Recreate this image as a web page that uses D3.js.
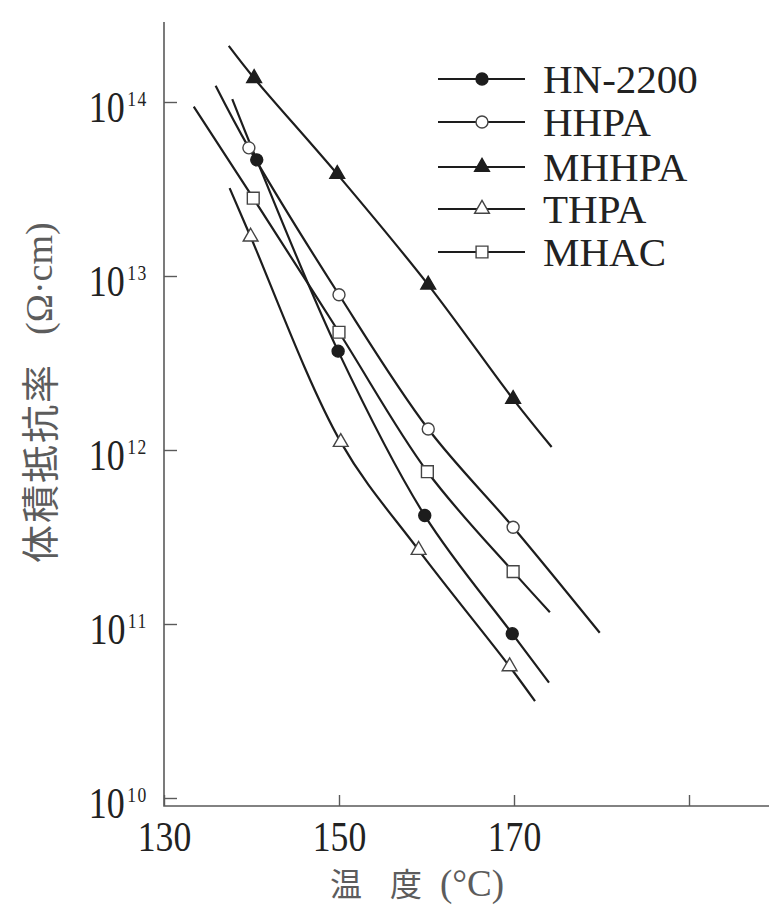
<!DOCTYPE html>
<html>
<head>
<meta charset="utf-8">
<script src="https://cdn.jsdelivr.net/npm/d3@7"></script>
<style>
  body { margin: 0; background: #fff; }
  svg { display: block; }
</style>
</head>
<body>
<script>
const W = 769, H = 908

// data: temperature (°C) and volume resistivity (Ω·cm)
// each curve: first and last entries are where the drawn line starts / stops,
// the middle ones carry the markers
const names = ['HN-2200', 'HHPA', 'MHHPA', 'THPA', 'MHAC']
const symbols = ['dot', 'circle', 'tri', 'otri', 'square']

const tHN = [137.8, 140.6, 149.9, 159.8, 169.8, 174.0]
const rHN = [1.04e14, 4.65e13, 3.7e12, 4.2e11, 8.8e10, 4.6e10]

const tHHPA = [135.9, 139.7, 150.0, 160.2, 169.9, 179.8]
const rHHPA = [1.24e14, 5.45e13, 7.8e12, 1.32e12, 3.6e11, 8.9e10]

const tMHHPA = [137.4, 140.3, 149.8, 160.2, 169.9, 174.3]
const rMHHPA = [2.1e14, 1.37e14, 3.85e13, 8.9e12, 1.96e12, 1.04e12]

const tTHPA = [137.5, 139.9, 150.2, 159.1, 169.5, 172.4]
const rTHPA = [3.2e13, 1.68e13, 1.11e12, 2.66e11, 5.7e10, 3.6e10]

const tMHAC = [133.4, 140.2, 150.0, 160.1, 169.9, 174.1]
const rMHAC = [9.4e13, 2.8e13, 4.75e12, 7.5e11, 2.0e11, 1.17e11]

const temps = [tHN, tHHPA, tMHHPA, tTHPA, tMHAC]
const rhos = [rHN, rHHPA, rMHHPA, rTHPA, rMHAC]

const xTicks = [130, 150, 170, 190]
const xLabels = ['130', '150', '170', '']
const yTicks = [1e10, 1e11, 1e12, 1e13, 1e14]

// layout
const LEFT = 164, TOP = 22, BOTTOM = 806
const INK = '#1d1d1d'
const SERIF = '"Liberation Serif", "DejaVu Serif", serif'
const CJK = '"Noto Sans CJK JP", "Noto Sans CJK SC", sans-serif'

const svg = d3.select('body').append('svg')
  .attr('width', W).attr('height', H)

const x = d3.scaleLinear().domain([130, 190]).range([LEFT, 689])
const y = d3.scaleLog().domain([1e10, 1e14]).range([798, 102])

// axis lines
svg.append('path')
  .attr('d', `M${LEFT},${TOP}V${BOTTOM}H${W}`)
  .attr('fill', 'none').attr('stroke', '#5a5a5a').attr('stroke-width', 1.6)

// x axis ticks + labels
const gx = svg.append('g')
  .attr('transform', `translate(0,${BOTTOM})`)
  .call(d3.axisBottom(x)
    .tickValues(xTicks)
    .tickSizeInner(-11).tickSizeOuter(0).tickPadding(14)
    .tickFormat((d, i) => xLabels[i]))
gx.select('.domain').remove()
gx.selectAll('line').attr('stroke', '#5a5a5a').attr('stroke-width', 1.4)
gx.selectAll('text')
  .attr('font-family', SERIF).attr('font-size', 43).attr('fill', '#222')
  .attr('transform', 'scale(0.83,1)')

// y axis ticks + labels (10 with superscript exponent)
const gy = svg.append('g')
  .attr('transform', `translate(${LEFT},0)`)
  .call(d3.axisLeft(y)
    .tickValues(yTicks)
    .tickSizeInner(-13).tickSizeOuter(0)
    .tickFormat(''))
gy.select('.domain').remove()
gy.selectAll('line').attr('stroke', '#5a5a5a').attr('stroke-width', 1.4)
gy.selectAll('.tick text').remove()
gy.selectAll('.tick').append('text')
  .attr('font-family', SERIF).attr('fill', '#222')
  .attr('text-anchor', 'end')
  .attr('transform', 'scale(0.8,1)')
  .attr('x', -20).attr('y', 19)
  .each(function (d) {
    const t = d3.select(this)
    t.append('tspan').attr('font-size', 45).text('10')
    t.append('tspan').attr('font-size', 22).attr('dx', 3).attr('dy', -16)
      .attr('letter-spacing', 2)
      .text(Math.round(Math.log10(d)))
  })

// axis titles
const xt = svg.append('text')
  .attr('y', 896).attr('fill', '#5c5c5c')
xt.append('tspan').attr('x', 330).attr('font-family', CJK).attr('font-size', 32).text('温')
xt.append('tspan').attr('x', 390).attr('font-family', CJK).attr('font-size', 32).text('度')
xt.append('tspan').attr('x', 440).attr('font-family', SERIF).attr('font-size', 37).text('(°C)')

const yt = svg.append('text')
  .attr('transform', 'translate(54,563) rotate(-90)')
  .attr('fill', '#5c5c5c')
yt.append('tspan').attr('font-family', CJK).attr('font-size', 38)
  .attr('letter-spacing', 2).text('体積抵抗率')
yt.append('tspan').attr('font-family', SERIF).attr('font-size', 38)
  .attr('dx', 28).attr('dy', -2).text('(Ω·cm)')

// marker drawing
function marker(sel, kind) {
  if (kind === 'dot' || kind === 'circle') {
    sel.append('circle').attr('r', 6)
      .attr('fill', kind === 'dot' ? INK : '#fff')
      .attr('stroke', kind === 'dot' ? INK : '#444').attr('stroke-width', 1.4)
  } else if (kind === 'tri' || kind === 'otri') {
    sel.append('path').attr('d', d3.symbol(d3.symbolTriangle, 95)())
      .attr('fill', kind === 'tri' ? INK : '#fff')
      .attr('stroke', kind === 'tri' ? INK : '#444').attr('stroke-width', 1.4)
  } else {
    sel.append('path').attr('d', d3.symbol(d3.symbolSquare, 140)())
      .attr('fill', '#fff').attr('stroke', '#444').attr('stroke-width', 1.4)
  }
}

const line = d3.line()
  .x(d => x(d[0])).y(d => y(d[1]))
  .curve(d3.curveCatmullRom.alpha(0.5))

names.forEach((name, s) => {
  const pts = temps[s].map((t, i) => [t, rhos[s][i]])
  svg.append('path')
    .datum(pts)
    .attr('d', line)
    .attr('fill', 'none').attr('stroke', INK).attr('stroke-width', 2.2)
  svg.append('g').selectAll('g')
    .data(pts.slice(1, -1))
    .join('g')
    .attr('transform', d => `translate(${x(d[0])},${y(d[1])})`)
    .each(function () { marker(d3.select(this), symbols[s]) })
})

// legend
const legRows = [79, 122, 167, 209, 252]
const leg = svg.append('g')
names.forEach((name, s) => {
  const g = leg.append('g').attr('transform', `translate(0,${legRows[s]})`)
  g.append('line').attr('x1', 438).attr('x2', 525)
    .attr('stroke', INK).attr('stroke-width', 2.2)
  marker(g.append('g').attr('transform', 'translate(482,0)'), symbols[s])
  g.append('text').attr('x', 543).attr('y', 14)
    .attr('font-family', SERIF).attr('font-size', 41).attr('fill', '#222')
    .text(name)
})
</script>
</body>
</html>
